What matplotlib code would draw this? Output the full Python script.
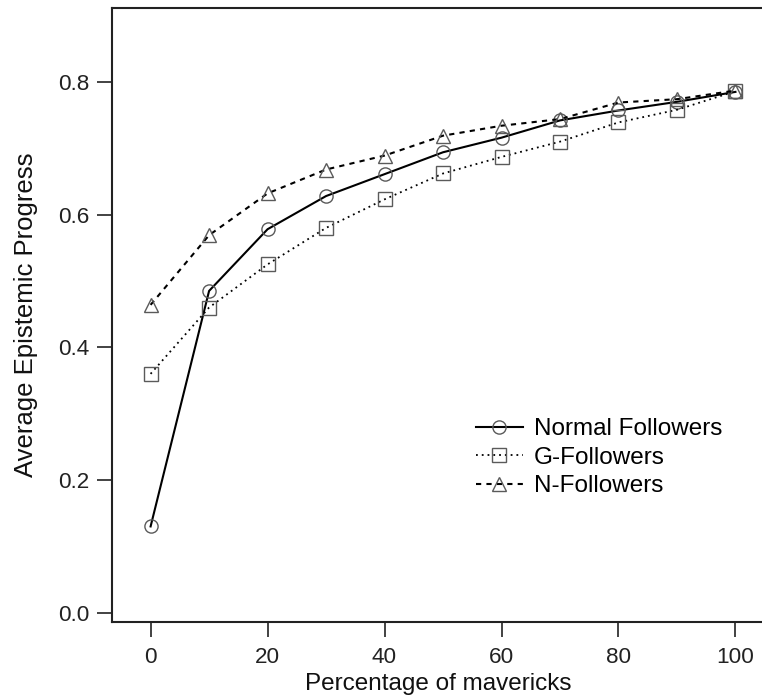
import matplotlib
matplotlib.use("Agg")
import matplotlib.pyplot as plt

plt.rcParams['font.family'] = ['Liberation Sans', 'DejaVu Sans']

x = [0, 10, 20, 30, 40, 50, 60, 70, 80, 90, 100]
normal = [0.130, 0.485, 0.578, 0.628, 0.661, 0.694, 0.716, 0.742, 0.757, 0.770, 0.785]
gfol = [0.360, 0.460, 0.525, 0.580, 0.623, 0.662, 0.687, 0.710, 0.739, 0.758, 0.786]
nfol = [0.464, 0.569, 0.632, 0.668, 0.689, 0.719, 0.734, 0.744, 0.769, 0.774, 0.787]
labels = ["Normal Followers", "G-Followers", "N-Followers"]
xticks = [0, 20, 40, 60, 80, 100]
yticks = [0.0, 0.2, 0.4, 0.6, 0.8]

fig = plt.figure(figsize=(7.62, 7.0), dpi=100)
ax = fig.add_axes([112/762, 1-621.7/700, 1-112/762+0.002, (621.7-8.3)/700])

mc = '#5a5a5a'
common = dict(color='black', markerfacecolor='none', markeredgecolor=mc,
              markersize=9.5, markeredgewidth=1.0)
ax.plot(x, normal, linestyle='-', linewidth=1.5, marker='o', label=labels[0], **common)
ax.plot(x, gfol, linestyle=(0, (1, 2.2)), linewidth=1.3, marker='s', label=labels[1], **common)
ax.plot(x, nfol, linestyle=(0, (2.5, 2.5)), linewidth=1.5, marker='^', label=labels[2], **common)

ax.set_xlim(-6.6, 104.8)
ax.set_ylim(-0.0136, 0.911)
ax.set_xticks(xticks)
ax.set_xticklabels([str(v) for v in xticks])
ax.set_yticks(yticks)
ax.set_yticklabels([f"{v:.1f}" for v in yticks])
ax.tick_params(direction='out', length=10.5, width=1.2, labelsize=16.2, pad=6, colors='#222222')
ax.tick_params(axis='x', pad=8)
for s in ax.spines.values():
    s.set_linewidth(1.5)
    s.set_color('#222222')

ax.set_xlabel("Percentage of mavericks", fontsize=17.5, labelpad=3.5, color='#111111')
ax.set_ylabel("Average Epistemic Progress", fontsize=18.5, labelpad=14.5, color='#111111')

leg = ax.legend(loc='upper left', bbox_to_anchor=(0.5585, 0.332), frameon=False,
                fontsize=17.5, handlelength=1.93, handletextpad=0.45, labelspacing=0.27,
                borderaxespad=0, borderpad=0)

fig.savefig("out.png", dpi=100)
